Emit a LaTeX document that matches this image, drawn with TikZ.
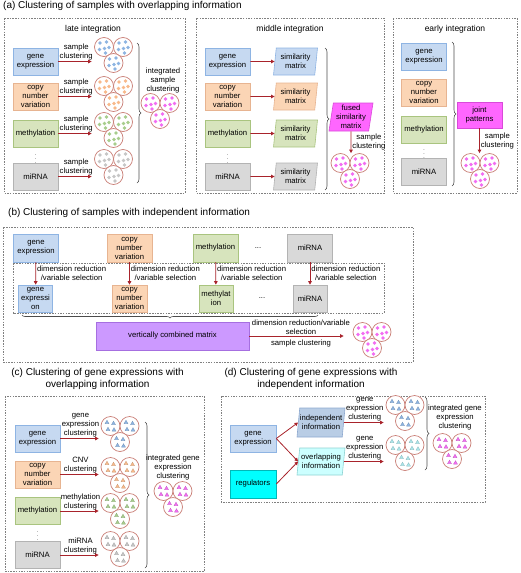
\documentclass[tikz,border=0pt]{standalone}
\usepackage{fontspec}
\setmainfont{Liberation Sans}
\usepackage{tikz}
\usetikzlibrary{shapes}
\usetikzlibrary{arrows.meta}
\usetikzlibrary{decorations.pathreplacing}
\definecolor{gexfill}{HTML}{C6D9F1}
\definecolor{gexline}{HTML}{8EB4E3}
\definecolor{cnvfill}{HTML}{FBD5B5}
\definecolor{cnvline}{HTML}{E7B491}
\definecolor{metfill}{HTML}{D7E4BD}
\definecolor{metline}{HTML}{A9C47F}
\definecolor{mirfill}{HTML}{D9D9D9}
\definecolor{mirline}{HTML}{B3B3B3}
\definecolor{fusefill}{HTML}{FF66FF}
\definecolor{fuseline}{HTML}{D94AD9}
\definecolor{vcmfill}{HTML}{CC99FF}
\definecolor{vcmline}{HTML}{A66FE0}
\definecolor{regfill}{HTML}{00FFFF}
\definecolor{regline}{HTML}{00B8B8}
\definecolor{indfill}{HTML}{B9CDE5}
\definecolor{indline}{HTML}{8EA9CF}
\definecolor{ovlfill}{HTML}{CCFFFF}
\definecolor{ovlline}{HTML}{8FD3D3}
\definecolor{ringc}{HTML}{C97E76}
\definecolor{arrowred}{HTML}{A8232B}
\definecolor{dotblue}{HTML}{8DB4E2}
\definecolor{dotorange}{HTML}{F8B98A}
\definecolor{dotgreen}{HTML}{A7CD8C}
\definecolor{dotgray}{HTML}{C6C6C6}
\definecolor{dotpink}{HTML}{F26CF2}
\definecolor{tricyan}{HTML}{A9E5EA}
\newcommand{\boxtxt}{\fontsize{7.7}{9}\selectfont}
\newcommand{\headtxt}{\fontsize{8.5}{10}\selectfont}
\newcommand{\titletxt}{\fontsize{10}{12}\selectfont}
\tikzstyle{omics} = [rectangle, inner sep=0.5pt, align=center, font=\boxtxt,
minimum width=45, minimum height=27, line width=0.6]
\tikzstyle{gex} = [omics, fill=gexfill, draw=gexline]
\tikzstyle{cnv} = [omics, fill=cnvfill, draw=cnvline]
\tikzstyle{met} = [omics, fill=metfill, draw=metline]
\tikzstyle{mir} = [omics, fill=mirfill, draw=mirline]
\tikzstyle{slant} = [trapezium, trapezium left angle=80, trapezium right angle=100,
trapezium stretches body, inner sep=0.5pt, align=center, font=\boxtxt,
minimum width=44, minimum height=27, line width=0.6]
\tikzstyle{const} = [inner sep=0pt, font=\boxtxt]
\tikzstyle{vdot} = [inner sep=0pt, font=\fontsize{5}{5}\selectfont]
\tikzstyle{note} = [inner sep=1pt, align=center, font=\boxtxt]
\tikzstyle{panelhead} = [inner sep=0pt, font=\headtxt]
\tikzstyle{figtitle} = [inner sep=0pt, align=center, font=\titletxt]
\tikzstyle{panel} = [draw=gray, line width=0.6, dash pattern=on 1.5pt off 1.2pt]
\tikzstyle{flow} = [->, draw=arrowred, line width=0.8]
\tikzstyle{curly} = [decorate, decoration={brace, amplitude=4pt}, draw=black!70,
line width=0.6]
\tikzstyle{ring} = [circle, draw=ringc, fill=white, line width=0.7, minimum size=19,
inner sep=0pt]
\tikzstyle{spot} = [circle, draw=none, minimum size=3.8, inner sep=0pt]
\tikzstyle{tri} = [regular polygon, regular polygon sides=3, minimum size=4.6,
inner sep=0pt, line width=0.25]
\tikzset{>={Triangle[length=3.5pt,width=3.5pt]}}
\newcommand{\spotpos}{-4/-4,2.5/-5,5/0.5,-4.5/2.5,0.5/1.5,1.5/6}
\newcommand{\tripos}{-3.5/-3.5,3/-2.5,-2.5/3.5,3.5/4}
\newcommand{\cluster}[6]{ %
  % Three rings named #1a, #1b, #1c with marks #5 of colour #4 at offsets #6.
  \node[ring] (#1a) at (#2-9.5,#3) {} ;
  \node[ring] (#1b) at (#2+9.5,#3) {} ;
  \node[ring] (#1c) at (#2,#3+16) {} ;
  \foreach \k in {a,b,c} { %
    \foreach \dx/\dy in #6 { %
      \node[draw=#4!80!black, #5, fill=#4] at ([shift={(\dx,\dy)}]#1\k) {} ;
    } ;
  } ;
}

\begin{document}
\begin{tikzpicture}[x=1pt,y=-1pt]
				\useasboundingbox (0,0) rectangle (520,573);
				% (a) overlapping information
				\node[figtitle, anchor=west] (ta) at (3,6) {(a) Clustering of samples with overlapping information} ; %
				\draw[panel] (4,18) rectangle (185,193);
				\draw[panel] (196,18) rectangle (384,193);
				\draw[panel] (393,18) rectangle (517,193);
				\node[panelhead] (late) at (93,29) {late integration} ; %
				\node[panelhead] (mid) at (290,29) {middle integration} ; %
				\node[panelhead] (early) at (455,29) {early integration} ; %

				% late integration
				\node[gex] (la1) at (35.5,61.5) {gene\\expression} ; %
				\node[cnv] (la2) at (35.5,96.5) {copy\\number\\variation} ; %
				\node[met] (la3) at (35.5,133.5) {methylation} ; %
				\node[vdot] (la0) at (35.5,156) {$\vdots$} ; %
				\node[mir] (la4) at (35.5,176.5) {miRNA} ; %
				\cluster{lc1}{113.5}{47}{dotblue}{spot}{\spotpos}
				\cluster{lc2}{113.5}{86}{dotorange}{spot}{\spotpos}
				\cluster{lc3}{113.5}{122}{dotgreen}{spot}{\spotpos}
				\cluster{lc4}{113.5}{159}{dotgray}{spot}{\spotpos}
				\draw[flow, shorten >=2.5] (la1) -- (la1 -| lc1a.west) node[midway, above, note] {sample\\clustering};
				\draw[flow, shorten >=2.5] (la2) -- (la2 -| lc2a.west) node[midway, above, note] {sample\\clustering};
				\draw[flow, shorten >=2.5] (la3) -- (la3 -| lc3a.west) node[midway, above, note] {sample\\clustering};
				\draw[flow, shorten >=2.5] (la4) -- (la4 -| lc4a.west) node[midway, above, note] {sample\\clustering};
				\draw[curly] (137,43) -- (137,183);
				\node[note] (lint) at (163,81) {integrated\\sample\\clustering} ; %
				\cluster{lcm}{160}{103}{dotpink}{spot}{\spotpos}

				% middle integration
				\node[gex] (mi1) at (227.5,61.5) {gene\\expression} ; %
				\node[cnv] (mi2) at (227.5,96.5) {copy\\number\\variation} ; %
				\node[met] (mi3) at (227.5,133.5) {methylation} ; %
				\node[vdot] (mi0) at (227.5,156) {$\vdots$} ; %
				\node[mir] (mi4) at (227.5,176.5) {miRNA} ; %
				\node[slant, fill=gexfill, draw=gexline] (sm1) at (295.5,61.5) {similarity\\matrix} ; %
				\node[slant, fill=cnvfill, draw=cnvline] (sm2) at (295.5,96.5) {similarity\\matrix} ; %
				\node[slant, fill=metfill, draw=metline] (sm3) at (295.5,133.5) {similarity\\matrix} ; %
				\node[slant, fill=mirfill, draw=mirline] (sm4) at (295.5,176.5) {similarity\\matrix} ; %
				\draw[flow] (mi1) -- (sm1);
				\draw[flow] (mi2) -- (sm2);
				\draw[flow] (mi3) -- (sm3);
				\draw[flow] (mi4) -- (sm4);
				\draw[curly] (325,48) -- (325,190);
				\node[slant, fill=fusefill, draw=fuseline, minimum height=28] (fused) at (351,117) {fused\\similarity\\matrix} ; %
				\cluster{mcl}{350}{163}{dotpink}{spot}{\spotpos}
				\draw[flow] (fused) -- (fused.south |- mcla.north) node[midway, right, note] {sample\\clustering};

				% early integration
				\node[gex] (ea1) at (424,57) {gene\\expression} ; %
				\node[cnv] (ea2) at (424,92.5) {copy\\number\\variation} ; %
				\node[met] (ea3) at (424,129.5) {methylation} ; %
				\node[vdot] (ea0) at (424,151.5) {$\vdots$} ; %
				\node[mir] (ea4) at (424,172) {miRNA} ; %
				\draw[curly] (452,42) -- (452,186);
				\node[omics, fill=fusefill, draw=fuseline, minimum height=26] (joint) at (479.5,115) {joint\\patterns} ; %
				\cluster{ecl}{480}{163}{dotpink}{spot}{\spotpos}
				\draw[flow] (joint) -- (joint.south |- ecla.north) node[midway, right, note] {sample\\clustering};

				% (b) independent information
				\node[figtitle, anchor=west] (tb) at (8,213) {(b) Clustering of samples with independent information} ; %
				\draw[panel] (3,227) rectangle (413,362);
				\draw[panel] (13,263) rectangle (384,313);
				\node[gex, minimum height=28] (bt1) at (36,248) {gene\\expression} ; %
				\node[cnv, minimum height=28] (bt2) at (129.5,248) {copy\\number\\variation} ; %
				\node[met, minimum height=28] (bt3) at (215.5,248) {methylation} ; %
				\node[const] (bt0) at (258,248) {...} ; %
				\node[mir, minimum height=28] (bt4) at (310,248) {miRNA} ; %
				\node[gex, minimum width=34] (br1) at (35.5,298.5) {gene\\expressi\\on} ; %
				\node[cnv, minimum width=35] (br2) at (129.5,298.5) {copy\\number\\variation} ; %
				\node[met, minimum width=34] (br3) at (216,298.5) {methylat\\ion} ; %
				\node[const] (br0) at (262,298) {...} ; %
				\node[mir, minimum width=34] (br4) at (310,298.5) {miRNA} ; %
				\draw[flow] (bt1) -- (br1) node[midway, right, note] {dimension reduction\\/variable selection};
				\draw[flow] (bt2) -- (br2) node[midway, right, note] {dimension reduction\\/variable selection};
				\draw[flow] (bt3) -- (br3) node[midway, right, note] {dimension reduction\\/variable selection};
				\draw[flow] (bt4) -- (br4) node[midway, right, note] {dimension reduction\\/variable selection};
				\draw[curly, decoration={brace, amplitude=3pt}] (318,315) -- (22,315);
				\node[omics, fill=vcmfill, draw=vcmline, minimum width=153, minimum height=28] (vcm) at (172.5,336) {vertically combined matrix} ; %
				\cluster{bcl}{372}{332}{dotpink}{spot}{\spotpos}
				\draw[flow, shorten >=9] (vcm) -- (vcm -| bcla.west) node[midway, above, note] {dimension reduction/variable\\selection} node[midway, below=3pt, note] {sample clustering};

				% (c) gene expressions, overlapping information
				\node[figtitle] (tc) at (97.5,379) {(c) Clustering of gene expressions with\\overlapping information} ; %
				\draw[panel] (5,396) rectangle (204,571.5);
				\node[gex] (cg1) at (37.5,438.5) {gene\\expression} ; %
				\node[cnv] (cg2) at (37.5,474.5) {copy\\number\\variation} ; %
				\node[met] (cg3) at (37.5,511) {methylation} ; %
				\node[vdot] (cg0) at (37.5,533.5) {$\vdots$} ; %
				\node[mir] (cg4) at (37.5,555) {miRNA} ; %
				\cluster{cc1}{120}{426}{dotblue}{tri}{\tripos}
				\cluster{cc2}{120}{467}{dotorange}{tri}{\tripos}
				\cluster{cc3}{120}{503}{dotgreen}{tri}{\tripos}
				\cluster{cc4}{120}{541}{dotgray}{tri}{\tripos}
				\draw[flow, shorten >=2] (cg1) -- (cg1 -| cc1a.west) node[midway, above, note] {gene\\expression\\clustering};
				\draw[flow, shorten >=2] (cg2) -- (cg2 -| cc2a.west) node[midway, above, note] {CNV\\clustering};
				\draw[flow, shorten >=2] (cg3) -- (cg3 -| cc3a.west) node[midway, above, note] {methylation\\clustering};
				\draw[flow, shorten >=2] (cg4) -- (cg4 -| cc4a.west) node[midway, above, note] {miRNA\\clustering};
				\draw[curly] (145,422) -- (145,568);
				\node[note] (cint) at (173,468) {integrated gene\\expression\\clustering} ; %
				\cluster{ccm}{173}{491}{dotpink}{tri}{\tripos}

				% (d) gene expressions, independent information
				\node[figtitle] (td) at (311,379) {(d) Clustering of gene expressions with\\independent information} ; %
				\draw[panel] (221,396) rectangle (485,502);
				\node[gex, minimum width=46] (dgene) at (253,438.5) {gene\\expression} ; %
				\node[omics, fill=regfill, draw=regline, minimum width=46, minimum height=28] (dreg) at (253,484) {regulators} ; %
				\node[slant, fill=indfill, draw=indline, minimum width=48, minimum height=29, inner xsep=0pt] (dind) at (321,422.5) {independent\\information} ; %
				\node[slant, fill=ovlfill, draw=ovlline, minimum width=48, inner xsep=0pt] (dovl) at (321,461.5) {overlapping\\information} ; %
				\draw[flow] (dgene.east) -- (dind.west);
				\draw[flow] (dgene.east) -- (dovl.west);
				\draw[flow] (dreg.east) -- (dovl.west);
				\cluster{dc1}{405}{405}{dotblue}{tri}{\tripos}
				\cluster{dc2}{405}{445}{tricyan}{tri}{\tripos}
				\draw[flow, shorten >=2] (dind) -- (dind -| dc1a.west) node[midway, above, note] {gene\\expression\\clustering};
				\draw[flow, shorten >=2] (dovl) -- (dovl -| dc2a.west) node[midway, above, note] {gene\\expression\\clustering};
				\draw[curly] (425,397) -- (425,470);
				\node[note] (dint) at (455,418) {integrated gene\\expression\\clustering} ; %
				\cluster{dcm}{452}{443}{dotpink}{tri}{\tripos}
\end{tikzpicture}
\end{document}
